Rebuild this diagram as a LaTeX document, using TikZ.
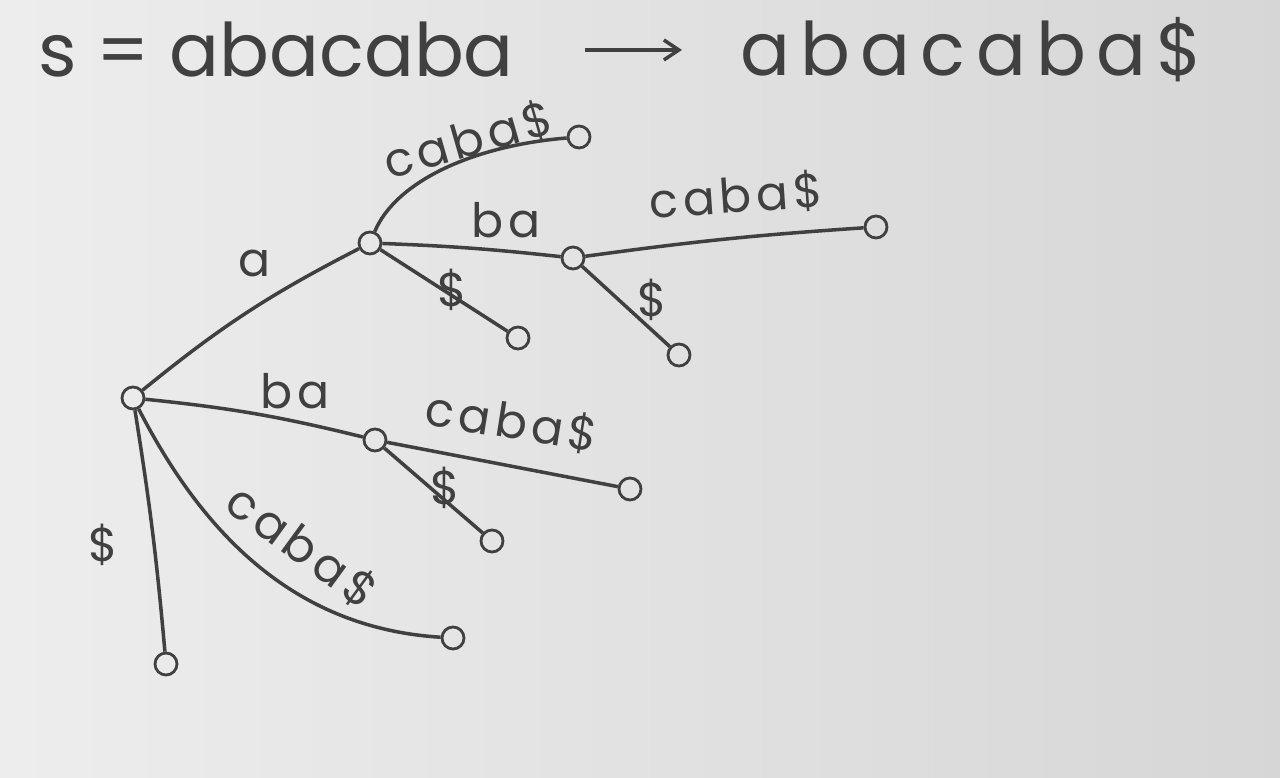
\documentclass[tikz,border=0pt]{standalone}
\usepackage{fontspec}
\setmainfont{Poppins}
\usetikzlibrary{arrows.meta}
\colorlet{cpen}{black!75}
\colorlet{cpaper}{black!7}
\tikzset{
  vtx/.style={circle, draw=cpen, line width=1.6pt, minimum size=4.4mm, inner sep=0pt},
  edge/.style={draw=cpen, line width=2pt},
  lbl/.style={font=\fontsize{27}{30}\selectfont\addfontfeature{LetterSpace=10}, text=cpen, inner sep=1pt},
  ttl/.style={font=\fontsize{42}{46}\selectfont, text=cpen, anchor=west, inner sep=0pt},
}
\begin{document}
\begin{tikzpicture}[x=0.2mm, y=0.2mm]
\shade[left color=cpaper, right color=black!16] (0,0) rectangle (1280,778);
\useasboundingbox (0,0) rectangle (1280,778);

% the string, and the string with its end marker
\node[ttl] (str) at (38,728) {s = abacaba};
\node[ttl] (strend) at (740,728) {\addfontfeature{LetterSpace=14}abacaba\$};
\coordinate (arr0) at (585,728);
\coordinate (arr1) at (682,728);
\draw[edge, -{Straight Barb[length=3mm, width=4mm]}] (arr0) -- (arr1);

% vertices of the suffix tree
\node[vtx] (root) at (133,380) {};
\node[vtx] (va)   at (370,535) {};
\node[vtx] (vab)  at (573,520) {};
\node[vtx] (vb)   at (375,338) {};
\node[vtx] (la1)  at (579,641) {};
\node[vtx] (la2)  at (518,440) {};
\node[vtx] (lab1) at (876,551) {};
\node[vtx] (lab2) at (679,423) {};
\node[vtx] (lb1)  at (630,289) {};
\node[vtx] (lb2)  at (492,237) {};
\node[vtx] (lr1)  at (453,140) {};
\node[vtx] (lr2)  at (166,114) {};

% edges
\draw[edge] (root) to[bend left=6] (va);
\draw[edge] (va) .. controls (395,595) and (470,632) .. (la1);
\draw[edge] (va) to[bend left=2] (vab);
\draw[edge] (va) -- (la2);
\draw[edge] (vab) to[bend left=2] (lab1);
\draw[edge] (vab) -- (lab2);
\draw[edge] (root) to[bend left=4] (vb);
\draw[edge] (vb) -- (lb1);
\draw[edge] (vb) -- (lb2);
\draw[edge] (root) .. controls (200,250) and (290,150) .. (lr1);
\draw[edge] (root) to[bend left=2] (lr2);

% edge labels
\node[lbl] (ta)    at (255,514) {a};
\node[lbl, rotate=16] (ta1) at (468,638) {caba\$};
\node[lbl] (tab)   at (506,558) {ba};
\node[lbl] (ta2)   at (452,488) {\$};
\node[lbl, rotate=4] (tab1) at (736,582) {caba\$};
\node[lbl] (tab2)  at (652,478) {\$};
\node[lbl] (tb)    at (295,387) {ba};
\node[lbl, rotate=-9] (tb1) at (512,356) {caba\$};
\node[lbl] (tb2)   at (445,290) {\$};
\node[lbl, rotate=-36] (tr1) at (302,232) {caba\$};
\node[lbl] (tr2)   at (103,233) {\$};
\end{tikzpicture}
\end{document}
